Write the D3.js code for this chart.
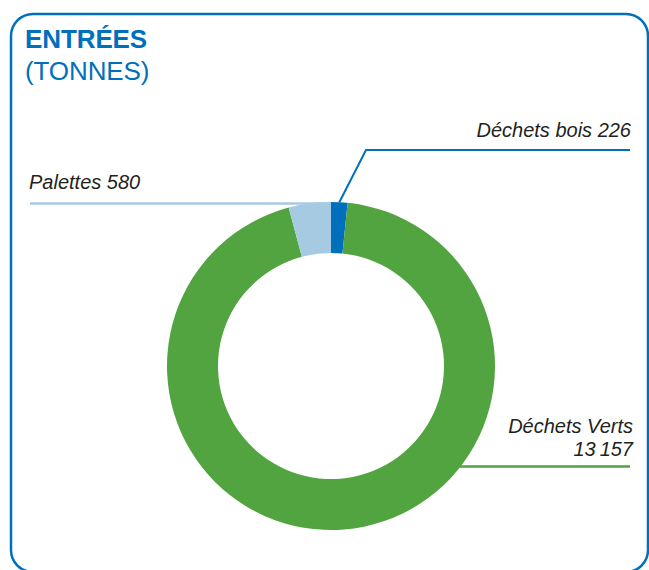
<!DOCTYPE html>
<html><head><meta charset="utf-8">
<script src="https://cdn.jsdelivr.net/npm/d3@7"></script>
<style>html,body{margin:0;padding:0;background:#fff;}svg{display:block;}</style>
</head><body>
<script>
const categories = ["Déchets bois", "Déchets Verts", "Palettes"];
const values = [226, 13157, 580];
const colors = ["#0070bd", "#51a43f", "#a7cae3"];
const title = "ENTRÉES";
const subtitle = "(TONNES)";

const W = 649, H = 570;
const svg = d3.select("body").append("svg").attr("width", W).attr("height", H);

svg.append("rect").attr("x", 11).attr("y", 14).attr("width", 637).attr("height", 558)
  .attr("rx", 22).attr("fill", "none").attr("stroke", "#0070bd").attr("stroke-width", 2.5);

svg.append("text").attr("x", 25).attr("y", 48).text(title)
  .attr("font-family", "Liberation Sans, Arial, sans-serif").attr("font-weight", "bold")
  .attr("font-size", 26).attr("fill", "#0070bd").attr("letter-spacing", -0.1);
svg.append("text").attr("x", 25).attr("y", 80).text(subtitle)
  .attr("font-family", "Liberation Sans, Arial, sans-serif")
  .attr("font-size", 26).attr("fill", "#0070bd").attr("letter-spacing", -0.1);

const cx = 331, cy = 366, R = 164, r = 113;
const g = svg.append("g").attr("transform", `translate(${cx},${cy})`);
const pie = d3.pie().sort(null).value(d => d)(values);
const arc = d3.arc().innerRadius(r).outerRadius(R);
g.selectAll("path").data(pie).join("path").attr("d", arc).attr("fill", (d, i) => colors[i]);

const lab = { "font-family": "Liberation Sans, Arial, sans-serif", "font-style": "italic", "font-size": 20, "fill": "#231f20" };
function txt(x, y, s, anchor) {
  const t = svg.append("text").attr("x", x).attr("y", y).text(s).attr("text-anchor", anchor);
  for (const k in lab) t.attr(k, lab[k]);
}

// Déchets bois leader
const bMid = (pie[0].startAngle + pie[0].endAngle) / 2;
const bx = cx + R * Math.sin(bMid), by = cy - R * Math.cos(bMid);
svg.append("path").attr("d", `M${bx},${by}L366,150L630,150`).attr("fill", "none")
  .attr("stroke", colors[0]).attr("stroke-width", 2);
txt(631, 137, categories[0] + " " + values[0], "end");

// Palettes leader
svg.append("path").attr("d", `M30,203.5L${cx - 8},203.5`).attr("fill", "none")
  .attr("stroke", colors[2]).attr("stroke-width", 2.5);
txt(29, 189, categories[2] + " " + values[2], "start");

// Déchets Verts leader
svg.append("path").attr("d", `M455,466.5L630,466.5`).attr("fill", "none")
  .attr("stroke", colors[1]).attr("stroke-width", 2.5);
txt(633, 433, categories[1], "end");
txt(633, 456, String(values[1]).replace(/(\d\d)(\d{3})$/, "$1\u2009$2"), "end");
</script>
</body></html>
